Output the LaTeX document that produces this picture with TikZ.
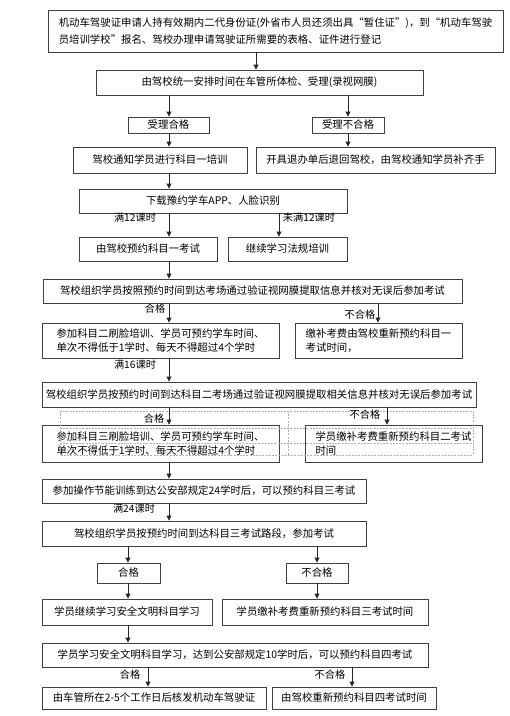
\documentclass[tikz,border=0pt]{standalone}
\usepackage{fontspec}
\setmainfont{Noto Sans CJK SC}
\usetikzlibrary{arrows.meta}
\tikzset{
  box/.style={draw=black!75, line width=0.9pt, fill=white, inner sep=0pt, align=left,
    font=\fontsize{10.4}{14}\selectfont},
  lbl/.style={inner sep=0pt, font=\fontsize{10.2}{12}\selectfont},
  arr/.style={line width=0.9pt, draw=black!85, -{Triangle[length=5pt,width=5pt]}},
  grid/.style={draw=black!30, line width=0.5pt, dash pattern=on 2pt off 1.2pt}
}
\newcommand\mkbox[7][]{%
  \node[box,#1,minimum width={(#5-#3)*1pt},minimum height={(#6-#4)*1pt}] (#2)
    at ({(#3+#5)/2},{(#4+#6)/2}) {#7};}
\begin{document}
\begin{tikzpicture}[x=1pt,y=-1pt]
\useasboundingbox (0,0) rectangle (510,716);
% column coordinates
\coordinate (c1) at (169,0);
\coordinate (c2) at (256,0);
\coordinate (c3) at (348,0);
\coordinate (c4) at (279,0);
\coordinate (c5) at (378,0);
\coordinate (c6) at (387,0);
\coordinate (c7) at (128,0);
\coordinate (c8) at (317,0);
\coordinate (c9) at (148,0);
\coordinate (c10) at (352,0);
% boxes
\mkbox[font=\fontsize{10.4}{17}\selectfont]{b1}{48}{10}{503}{52}{机动车驾驶证申请人持有效期内二代身份证(外省市人员还须出具“暂住证”)，到“机动车驾驶\\员培训学校”报名、驾校办理申请驾驶证所需要的表格、证件进行登记}
\mkbox{b2}{96}{70}{423}{95}{由驾校统一安排时间在车管所体检、受理(录视网膜)}
\mkbox{b3a}{128}{117}{209}{133}{受理合格}
\mkbox{b3b}{312}{117}{384}{133}{受理不合格}
\mkbox{b4a}{73}{147}{247}{173}{驾校通知学员进行科目一培训}
\mkbox{b4b}{256}{147}{495}{173}{开具退办单后退回驾校，由驾校通知学员补齐手}
\mkbox{b5}{79}{189}{347}{213}{下载豫约学车APP、人脸识别}
\mkbox{b6a}{79}{237}{217}{261}{由驾校预约科目一考试}
\mkbox{b6b}{228}{237}{347}{261}{继续学习法规培训}
\mkbox{b7}{43}{279}{462}{303}{驾校组织学员按照预约时间到达考场通过验证视网膜提取信息并核对无误后参加考试}
\mkbox{b8a}{42}{323}{279}{358}{参加科目二刷脸培训、学员可预约学车时间、\\单次不得低于1学时、每天不得超过4个学时}
\mkbox{b8b}{295}{323}{462}{358}{缴补考费由驾校重新预约科目一\\考试时间，}
\mkbox{b9}{42}{382}{476}{407}{驾校组织学员按预约时间到达科目二考场通过验证视网膜提取相关信息并核对无误后参加考试}
\mkbox{b10a}{42}{425}{279}{462}{参加科目三刷脸培训、学员可预约学车时间、\\单次不得低于1学时、每天不得超过4个学时}
\mkbox{b10b}{305}{425}{482}{462}{学员缴补考费重新预约科目二考试\\时间\phantom{缴补考费重新预约科目二考试}}
\mkbox{b11}{42}{479}{366}{503}{参加操作节能训练到达公安部规定24学时后，可以预约科目三考试}
\mkbox{b12}{42}{521}{366}{546}{驾校组织学员按预约时间到达科目三考试路段，参加考试}
\mkbox{b13a}{97}{563}{160}{583}{合格}
\mkbox{b13b}{286}{563}{348}{583}{不合格}
\mkbox{b14a}{42}{599}{212}{625}{学员继续学习安全文明科目学习}
\mkbox{b14b}{222}{599}{428}{625}{学员缴补考费重新预约科目三考试时间}
\mkbox{b15}{42}{643}{428}{667}{学员学习安全文明科目学习，达到公安部规定10学时后，可以预约科目四考试}
\mkbox{b16a}{42}{687}{266}{709}{由车管所在2-5个工作日后核发机动车驾驶证}
\mkbox{b16b}{272}{687}{436}{709}{由驾校重新预约科目四考试时间}
% dashed frames (text box outlines)
\coordinate (g1) at (60,411);
\coordinate (g2) at (473,455);
\draw[grid] (g1) rectangle (g2);
\draw[grid] (g1 -| b10b.west) ++(-16,0) coordinate (gv) -- (gv |- g2);
\draw[grid] (60,428) -- (473,428);
\draw[grid] (60,443) -- (473,443);
% labels
\node[lbl] (l1) at (135,218) {满12课时};
\node[lbl] (l2) at (309,218) {未满12课时};
\node[lbl] (l3) at (155,309) {合格};
\node[lbl] (l4) at (360,315) {不合格};
\node[lbl] (l5) at (135,365) {满16课时};
\node[lbl] (l6) at (154,419) {合格};
\node[lbl] (l7) at (365,415) {不合格};
\node[lbl] (l8) at (134,509) {满24课时};
\node[lbl] (l9) at (130,675) {合格};
\node[lbl] (l10) at (330,675) {不合格};
% arrows
\draw[arr] (b1.south -| c2) -- (b2.north -| c2);
\draw[arr] (b2.south -| c1) -- (b3a.north -| c1);
\draw[arr] (b2.south -| c3) -- (b3b.north -| c3);
\draw[arr] (b3a.south -| c1) -- (b4a.north -| c1);
\draw[arr] (b3b.south -| c3) -- (b4b.north -| c3);
\draw[arr] (b4a.south -| c1) -- (b5.north -| c1);
\draw[arr] (b5.south -| c1) -- (b6a.north -| c1);
\draw[arr] (b5.south -| c4) -- (b6b.north -| c4);
\draw[arr] (b6a.south -| c1) -- (b7.north -| c1);
\draw[arr] (b7.south -| c1) -- (b8a.north -| c1);
\draw[arr] (b7.south -| c5) -- (b8b.north -| c5);
\draw[arr] (b8a.south -| c1) -- (b9.north -| c1);
\draw[arr] (b9.south -| c1) -- (b10a.north -| c1);
\draw[arr] (b9.south -| c6) -- (b10b.north -| c6);
\draw[arr] (b10a.south -| c1) -- (b11.north -| c1);
\draw[arr] (b11.south -| c1) -- (b12.north -| c1);
\draw[arr] (b12.south -| c7) -- (b13a.north -| c7);
\draw[arr] (b12.south -| c8) -- (b13b.north -| c8);
\draw[arr] (b13a.south -| c7) -- (b14a.north -| c7);
\draw[arr] (b13b.south -| c8) -- (b14b.north -| c8);
\draw[arr] (b14a.south -| c7) -- (b15.north -| c7);
\draw[arr] (b15.south -| c9) -- (b16a.north -| c9);
\draw[arr] (b15.south -| c10) -- (b16b.north -| c10);
\end{tikzpicture}
\end{document}
